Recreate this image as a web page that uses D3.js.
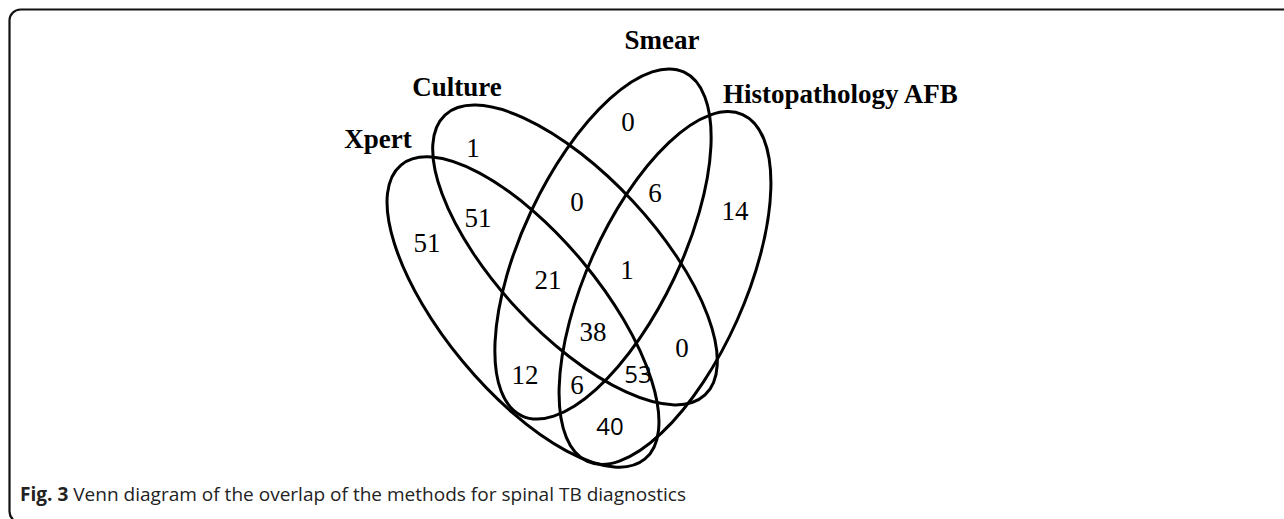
<!DOCTYPE html>
<html>
<head>
<meta charset="utf-8">
<script src="https://cdn.jsdelivr.net/npm/d3@7"></script>
<style>
  html, body { margin: 0; padding: 0; background: #fff; }
  svg { display: block; }
</style>
</head>
<body>
<div id="chart"></div>
<script>
// sets, in drawing order (A..D)
var setNames = ["Xpert", "Culture", "Smear", "Histopathology AFB"];

// region keys (which sets the region belongs to) and their counts
var regionKeys = ["A", "B", "C", "D", "AB", "BC", "CD", "ABC", "BCD", "ABCD", "BD", "AC", "ACD", "ABD", "AD"];
var regionValues = [51, 1, 0, 14, 51, 0, 6, 21, 1, 38, 0, 12, 6, 53, 40];

var caption = ["Fig. 3", " Venn diagram of the overlap of the methods for spinal TB diagnostics"];

// layout of the diagram, in diagram units (origin at the upper left of the venn)
var ellipses = [
  { cx: 163, cy: 262, rx: 191, ry: 78, rot: 50.3 },
  { cx: 215, cy: 205, rx: 191, ry: 79, rot: 47.1 },
  { cx: 243, cy: 194, rx: 190, ry: 79, rot: -64.7 },
  { cx: 305, cy: 238, rx: 190, ry: 79, rot: -65.9 }
];
var setLabelPos = [[18, 98, "middle"], [97, 46, "middle"], [302, -1, "middle"], [363, 53, "start"]];
var regionPos = {
  A: [67, 193], B: [113, 98], C: [268, 72], D: [375, 161],
  AB: [118, 168], BC: [217, 152], CD: [295, 143],
  ABC: [188, 230], BCD: [267, 220], ABCD: [233, 282],
  BD: [322, 298], AC: [165, 325], ACD: [217, 335], ABD: [278, 325], AD: [250, 377]
};
var sansRegions = ["ABD", "AD"];

var width = 1284, height = 519;

var svg = d3.select("#chart").append("svg")
  .attr("width", width)
  .attr("height", height);

// frame
svg.append("rect")
  .attr("x", 9.5).attr("y", 9.5)
  .attr("width", 1320).attr("height", 513)
  .attr("rx", 11).attr("ry", 11)
  .attr("fill", "none")
  .attr("stroke", "#111")
  .attr("stroke-width", 2.2);

// same factor on both axes so the ellipses keep their shape
var x = d3.scaleLinear().domain([0, 500]).range([360, 860]);
var y = d3.scaleLinear().domain([0, 500]).range([50, 550]);
var k = x(1) - x(0);

var g = svg.append("g");

g.selectAll("ellipse.set")
  .data(ellipses)
  .enter()
  .append("ellipse")
  .attr("class", "set")
  .attr("cx", 0).attr("cy", 0)
  .attr("rx", function(d) { return d.rx * k; })
  .attr("ry", function(d) { return d.ry * k; })
  .attr("transform", function(d) {
    return "translate(" + x(d.cx) + "," + y(d.cy) + ") rotate(" + d.rot + ")";
  })
  .attr("fill", "none")
  .attr("stroke", "#000")
  .attr("stroke-width", 3);

g.selectAll("text.setname")
  .data(setNames)
  .enter()
  .append("text")
  .attr("class", "setname")
  .attr("x", function(d, i) { return x(setLabelPos[i][0]); })
  .attr("y", function(d, i) { return y(setLabelPos[i][1]); })
  .attr("text-anchor", function(d, i) { return setLabelPos[i][2]; })
  .style("font-family", "'Liberation Serif', 'Times New Roman', serif")
  .style("font-weight", "bold")
  .style("font-size", "27px")
  .text(function(d) { return d; });

g.selectAll("text.count")
  .data(regionKeys)
  .enter()
  .append("text")
  .attr("class", "count")
  .attr("x", function(d) { return x(regionPos[d][0]); })
  .attr("y", function(d) { return y(regionPos[d][1]); })
  .attr("dy", "0.35em")
  .attr("text-anchor", "middle")
  .style("font-family", function(d) {
    return sansRegions.indexOf(d) >= 0 ? "'Open Sans', sans-serif" : "'Liberation Serif', serif";
  })
  .style("font-size", function(d) { return sansRegions.indexOf(d) >= 0 ? "24px" : "27px"; })
  .text(function(d, i) { return regionValues[i]; });

var cap = svg.append("text")
  .attr("x", 20)
  .attr("y", 501)
  .attr("textLength", 666)
  .attr("lengthAdjust", "spacingAndGlyphs")
  .style("font-family", "'Open Sans', sans-serif")
  .style("font-size", "19px")
  .style("fill", "#222");
cap.append("tspan").style("font-weight", "bold").text(caption[0]);
cap.append("tspan").text(caption[1]);
</script>
</body>
</html>
